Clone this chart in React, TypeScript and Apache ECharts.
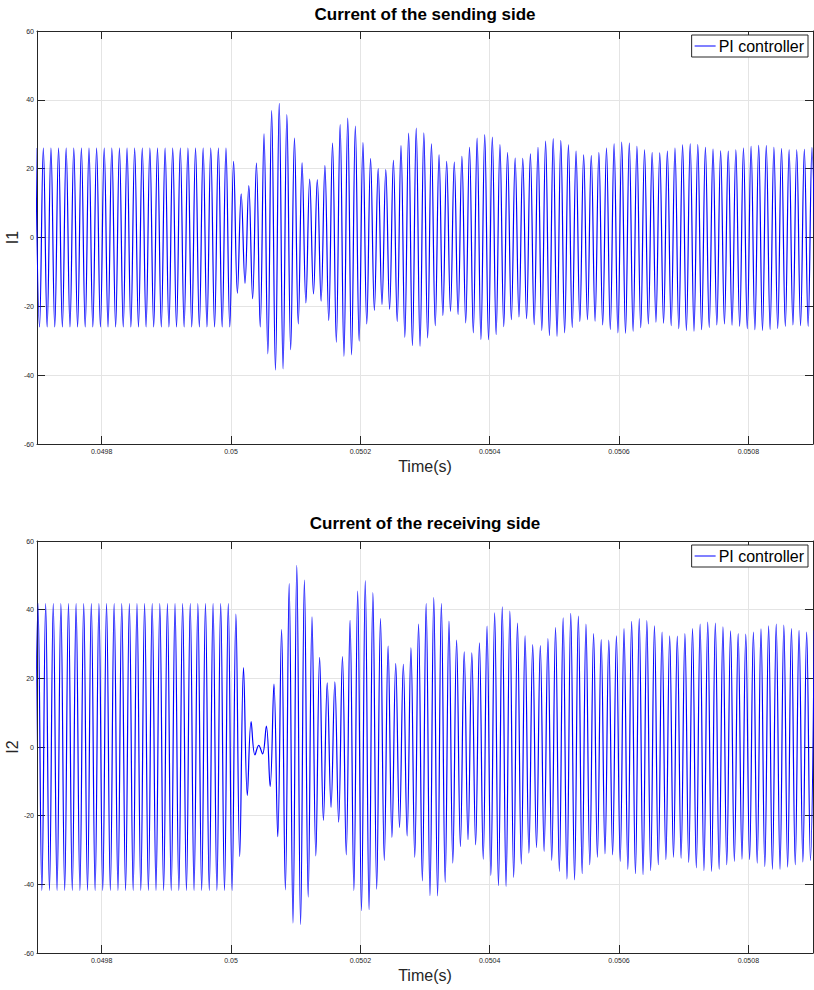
import React, { useEffect, useRef } from 'react';
import * as echarts from 'echarts';

// ---- texts ----
const titleTop = 'Current of the sending side';
const titleBottom = 'Current of the receiving side';
const seriesName = 'PI controller';
const xName = 'Time(s)';
const yNameTop = 'I1';
const yNameBottom = 'I2';

// ---- axes ----
const xMin = 0.0497;
const xMax = 0.0509;
const xTicks = [0.0498, 0.05, 0.0502, 0.0504, 0.0506, 0.0508];
const yMin = -60;
const yMax = 60;
const yStep = 20;

// ---- sampling of the successive extremes (peak / trough) of each waveform ----
const halfPeriod = 5.8841e-6; // s between a peak and the next trough
const topStart = 0.04969803; // time of first extreme (peak) of I1
const bottomStart = 0.04969573; // time of first extreme (trough) of I2

// I1 successive extremes
const topExtremes = [
  26, -26, 26, -26, 26, -26, 26, -26, 26, -26, 26, -26, 26, -26, 26, -26,
  26, -26, 26, -26, 26, -26, 26, -26, 26, -26, 26, -26, 26, -26, 26, -26,
  26, -26, 26, -26, 26, -26, 26, -26, 26, -26, 26, -26, 26, -26, 26, -26,
  26, -26, 26, -26,
  22.1, -16.2, 12.7, -13.3, 15.1, -17.8, 21.6, -26.0, 30.1, -33.8, 36.9, -38.5, 39.0, -38.2, 35.7, -32.6, 28.9, -25.1,
  21.7, -19.0, 17.0, -16.4, 16.8, -18.5, 20.9, -24.1, 27.4, -30.4, 32.8, -34.5, 34.7, -34.1, 32.4, -30.1, 27.6, -25.1, 22.9, -21.2,
  20.0, -19.5, 19.7, -20.9, 22.4, -24.4, 26.7, -29.0, 30.3, -31.4, 31.8, -31.6, 30.4, -29.2, 27.2, -25.6, 24.0, -22.7, 22.1, -21.5,
  21.9, -22.4, 23.6, -24.8, 26.2, -27.7, 28.9, -29.6, 29.9, -29.7, 29.2, -28.2, 27.0, -25.9, 24.7, -23.9, 23.1, -23.1, 23.0, -23.6,
  24.3, -25.3, 26.2, -27.0, 28.0, -28.5, 28.7, -28.7, 28.2, -27.7, 26.9, -26.1, 25.1, -24.4, 24.0, -23.9, 23.8, -24.3, 24.7, -25.4,
  26.0, -26.7, 27.2, -27.7, 27.7, -27.8, 27.4, -27.2, 26.5, -26.2, 25.5, -25.1, 24.7, -24.6, 24.6, -24.9, 25.1, -25.6, 26.0, -26.5,
  26.9, -27.0, 27.2, -27.2, 27.0, -26.8, 26.2, -26.1, 25.7, -25.4, 25.2, -25.1, 25.1, -25.5, 25.5, -25.8, 26.0, -26.5, 26.5, -26.8,
  26.8, -27.0, 26.7, -26.7, 26.2, -26.4, 25.8, -25.8, 25.5, -25.4, 25.5, -25.6, 25.6, -25.8, 26.1, -26.0,
];

// I2 successive extremes
const bottomExtremes = [
  -41.8, 41.8, -41.8, 41.8, -41.8, 41.8, -41.8, 41.8, -41.8, 41.8, -41.8, 41.8, -41.8, 41.8, -41.8, 41.8,
  -41.8, 41.8, -41.8, 41.8, -41.8, 41.8, -41.8, 41.8, -41.8, 41.8, -41.8, 41.8, -41.8, 41.8, -41.8, 41.8,
  -41.8, 41.8, -41.8, 41.8, -41.8, 41.8, -41.8, 41.8, -41.8, 41.8, -41.8, 41.8, -41.8, 41.8, -41.8, 41.8,
  -41.8, 41.8, -41.8, 41.8, -41.8,
  38.7, -31.9, 23.1, -14.1, 7.4, -2.3, 0.5, -2.0, 6.1, -11.5, 18.3, -26.1, 34.2, -41.6, 47.6, -51.3, 52.9, -51.7, 48.6, -43.7,
  37.9, -31.7, 26.1, -21.4, 18.7, -17.6, 19.0, -21.9, 26.3, -31.4, 36.9, -41.8, 45.4, -47.7, 48.5, -47.4, 45.0, -41.4, 37.4, -33.0,
  29.4, -26.3, 24.3, -23.4, 24.1, -25.9, 28.9, -32.1, 35.8, -39.0, 41.8, -43.3, 43.5, -43.4, 41.8, -39.4, 36.7, -33.8, 31.1, -29.0,
  27.7, -27.0, 27.4, -28.5, 30.3, -32.7, 35.2, -37.4, 39.1, -40.4, 40.8, -40.6, 39.6, -38.0, 36.1, -34.1, 32.4, -30.9, 29.8, -29.3,
  29.5, -30.4, 31.6, -33.0, 34.8, -36.2, 37.6, -38.5, 38.9, -38.7, 38.1, -36.9, 35.8, -34.3, 33.0, -32.1, 31.3, -31.1, 31.1, -31.4,
  32.4, -33.3, 34.5, -35.6, 36.6, -36.9, 37.4, -37.2, 36.8, -36.0, 35.3, -34.3, 33.5, -32.8, 32.4, -32.1, 32.3, -32.4, 33.0, -33.6,
  34.5, -35.2, 35.8, -36.0, 36.4, -36.2, 36.1, -35.6, 35.0, -34.3, 33.8, -33.3, 33.0, -32.7, 32.9, -32.8, 33.5, -33.8, 34.4, -34.8,
  35.3, -35.6, 35.8, -35.6, 35.5, -35.0, 34.5, -34.3, 34.0, -33.5, 33.5, -33.0,
  34.0,
];

const FONT = '"Liberation Sans", Arial, Helvetica, sans-serif';
const AXIS_COLOR = '#262626';
const GRID_COLOR = '#e4e4e4';
const LINE_COLOR = '#0000ff';

function toPairs(start: number, values: number[]) {
  return values.map((v, i) => [start + i * halfPeriod, v]);
}

function makeAxes(gridIndex: number, yName: string) {
  const xMain = {
    type: 'value',
    gridIndex,
    min: xMin,
    max: xMax,
    position: 'bottom',
    name: xName,
    nameLocation: 'middle',
    nameGap: 14,
    nameMoveOverlap: false,
    nameTextStyle: { fontSize: 16, color: AXIS_COLOR, fontFamily: FONT },
    axisLine: { show: true, onZero: false, lineStyle: { color: AXIS_COLOR, width: 1 } },
    axisTick: {
      show: true,
      inside: true,
      length: 8,
      customValues: xTicks,
      lineStyle: { color: AXIS_COLOR, width: 1 },
    },
    axisLabel: {
      show: true,
      customValues: xTicks,
      fontSize: 7,
      margin: 4,
      color: AXIS_COLOR,
      fontFamily: FONT,
      formatter: (v: number) => String(+v.toFixed(6)),
    },
    splitLine: { show: true, lineStyle: { color: GRID_COLOR, width: 1 } },
  };
  const xTop = {
    type: 'value',
    gridIndex,
    min: xMin,
    max: xMax,
    position: 'top',
    axisLine: { show: true, onZero: false, lineStyle: { color: AXIS_COLOR, width: 1 } },
    axisTick: {
      show: true,
      inside: true,
      length: 8,
      customValues: xTicks,
      lineStyle: { color: AXIS_COLOR, width: 1 },
    },
    axisLabel: { show: false },
    splitLine: { show: false },
  };
  const yMain = {
    type: 'value',
    gridIndex,
    min: yMin,
    max: yMax,
    interval: yStep,
    position: 'left',
    name: yName,
    nameLocation: 'middle',
    nameGap: 17,
    nameMoveOverlap: false,
    nameTextStyle: { fontSize: 16, color: AXIS_COLOR, fontFamily: FONT },
    axisLine: { show: true, onZero: false, lineStyle: { color: AXIS_COLOR, width: 1 } },
    axisTick: { show: true, inside: true, length: 8, lineStyle: { color: AXIS_COLOR, width: 1 } },
    axisLabel: { show: true, fontSize: 7, margin: 3, color: AXIS_COLOR, fontFamily: FONT },
    splitLine: { show: true, lineStyle: { color: GRID_COLOR, width: 1 } },
  };
  const yRight = {
    type: 'value',
    gridIndex,
    min: yMin,
    max: yMax,
    interval: yStep,
    position: 'right',
    axisLine: { show: true, onZero: false, lineStyle: { color: AXIS_COLOR, width: 1 } },
    axisTick: { show: true, inside: true, length: 8, lineStyle: { color: AXIS_COLOR, width: 1 } },
    axisLabel: { show: false },
    splitLine: { show: false },
  };
  return { x: [xMain, xTop], y: [yMain, yRight] };
}

export default function App() {
  const ref = useRef<HTMLDivElement>(null);

  useEffect(() => {
    if (!ref.current) return;
    const chart = echarts.init(ref.current, undefined, { renderer: 'svg' });
    const a0 = makeAxes(0, yNameTop);
    const a1 = makeAxes(1, yNameBottom);

    const legendBase = {
      data: [{ name: seriesName, icon: 'rect' }],
      right: 6,
      orient: 'horizontal',
      backgroundColor: '#ffffff',
      borderColor: AXIS_COLOR,
      borderWidth: 1,
      borderRadius: 0,
      padding: [3, 4, 3, 3],
      itemWidth: 21,
      itemHeight: 1,
      itemGap: 4,
      itemStyle: { color: LINE_COLOR, borderWidth: 0 },
      lineStyle: { width: 0 },
      textStyle: { fontSize: 16, color: '#000', fontFamily: FONT, padding: [0, 0, 0, -2] },
      selectedMode: false,
    };

    const seriesBase = {
      type: 'line',
      name: seriesName,
      showSymbol: false,
      symbol: 'none',
      smooth: 0.4,
      clip: true,
      silent: true,
      lineStyle: { color: LINE_COLOR, width: 1.2 },
      itemStyle: { color: LINE_COLOR },
    };

    chart.setOption({
      animation: false,
      backgroundColor: '#ffffff',
      textStyle: { fontFamily: FONT },
      title: [
        {
          text: titleTop,
          left: 425,
          top: 6,
          textAlign: 'center',
          padding: 0,
          textStyle: { fontSize: 17, fontWeight: 'bold', color: '#000', fontFamily: FONT },
        },
        {
          text: titleBottom,
          left: 425,
          top: 515,
          textAlign: 'center',
          padding: 0,
          textStyle: { fontSize: 17, fontWeight: 'bold', color: '#000', fontFamily: FONT },
        },
      ],
      legend: [
        { ...legendBase, top: 35 },
        { ...legendBase, top: 545 },
      ],
      grid: [
        { left: 37, top: 31, width: 776, height: 413, containLabel: false, outerBoundsMode: 'none' },
        { left: 37, top: 541, width: 776, height: 412, containLabel: false, outerBoundsMode: 'none' },
      ],
      xAxis: [...a0.x, ...a1.x.map((ax) => ({ ...ax, gridIndex: 1 }))],
      yAxis: [...a0.y, ...a1.y.map((ax) => ({ ...ax, gridIndex: 1 }))],
      series: [
        { ...seriesBase, xAxisIndex: 0, yAxisIndex: 0, data: toPairs(topStart, topExtremes) },
        { ...seriesBase, xAxisIndex: 2, yAxisIndex: 2, data: toPairs(bottomStart, bottomExtremes) },
      ],
    });

    return () => chart.dispose();
  }, []);

  return (
    <div
      ref={ref}
      style={{ position: 'absolute', left: 0, top: 0, width: 814, height: 990, background: '#fff' }}
    />
  );
}
